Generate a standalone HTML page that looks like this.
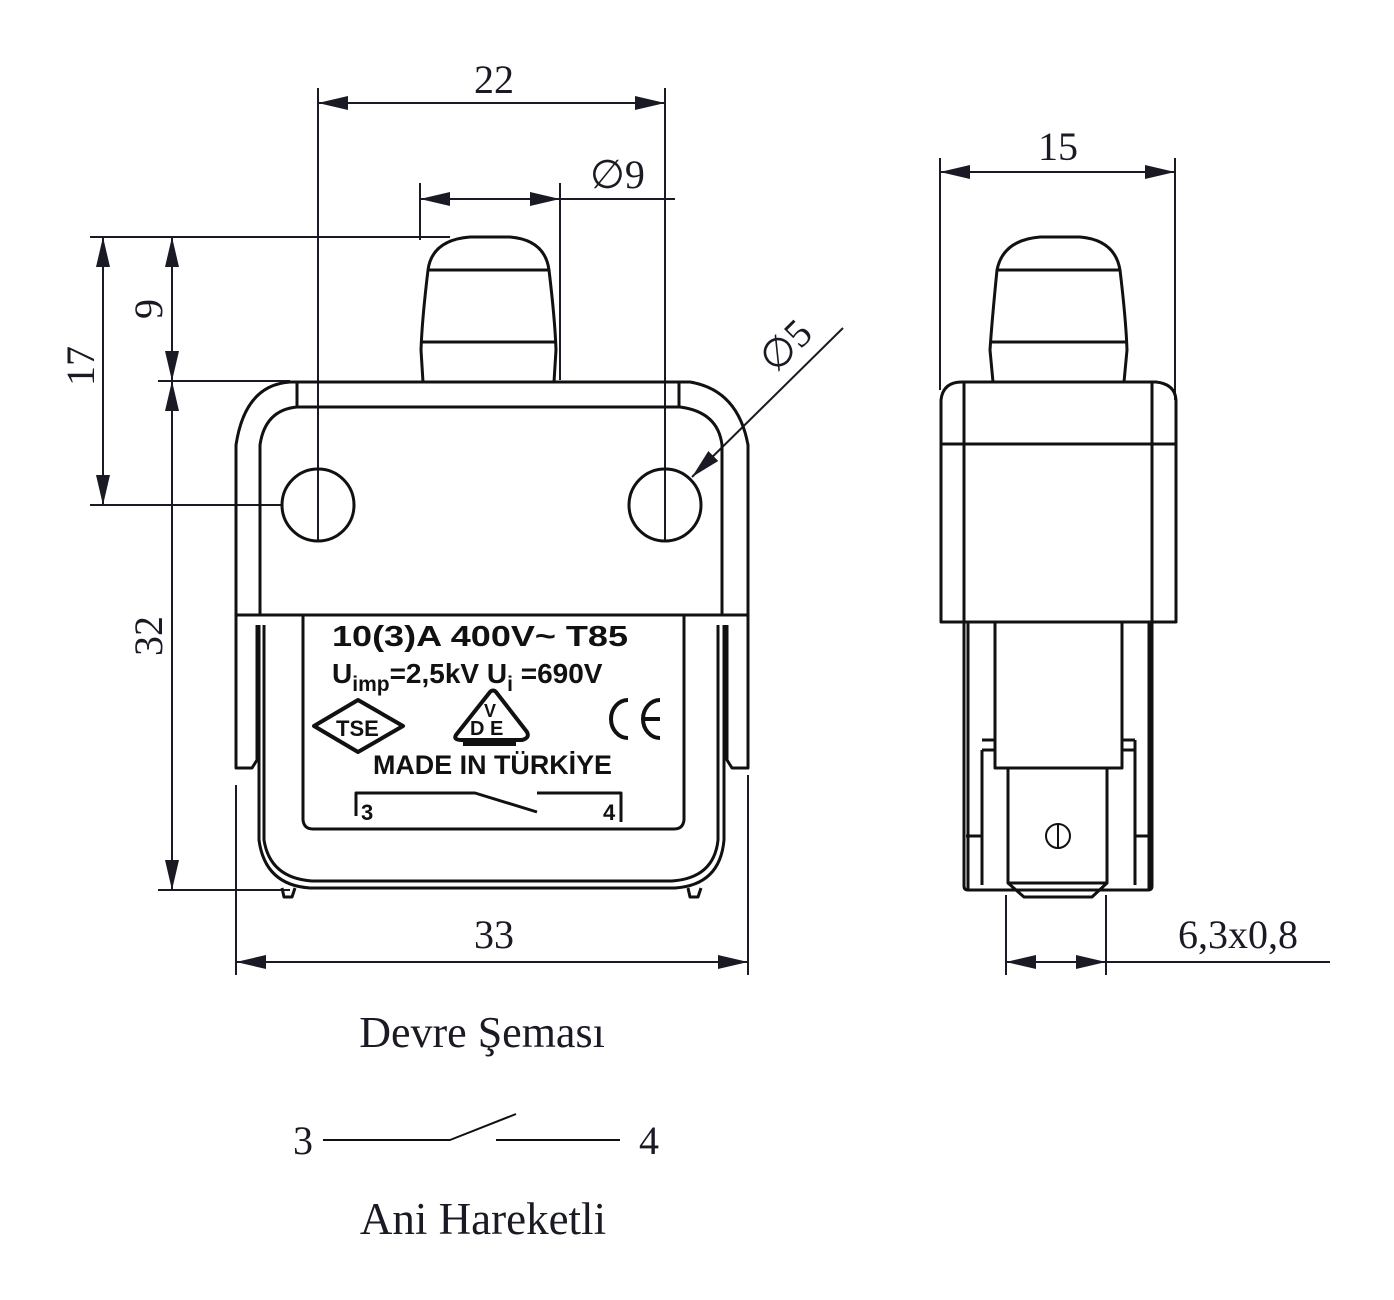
<!DOCTYPE html>
<html><head><meta charset="utf-8"><style>
html,body{margin:0;padding:0;background:#fff}
svg{display:block}
.t{font-family:"Liberation Serif",serif;font-size:40px;fill:#1a1a24}
.b{font-family:"Liberation Sans",sans-serif;font-weight:bold;font-size:26px;fill:#111}
</style></head><body>
<svg width="1394" height="1300" viewBox="0 0 1394 1300" xmlns="http://www.w3.org/2000/svg">
<defs>
<marker id="a" viewBox="0 0 30 14" refX="30" refY="7" markerWidth="30" markerHeight="14" markerUnits="userSpaceOnUse" orient="auto-start-reverse"><path d="M0,0L30,7L0,14z" fill="#1a1a24"/></marker>
</defs>
<g stroke="#1a1a24" stroke-width="2" fill="none">
<line x1="318" y1="88" x2="318" y2="540"/>
<line x1="665" y1="88" x2="665" y2="540"/>
<line x1="318" y1="103" x2="665" y2="103" marker-start="url(#a)" marker-end="url(#a)"/>
<line x1="420" y1="183" x2="420" y2="240"/>
<line x1="560" y1="183" x2="560" y2="380"/>
<line x1="420" y1="199" x2="560" y2="199" marker-start="url(#a)" marker-end="url(#a)"/>
<line x1="560" y1="199" x2="675" y2="199"/>
<line x1="90" y1="237" x2="450" y2="237"/>
<line x1="158" y1="381" x2="290" y2="381"/>
<line x1="90" y1="505" x2="282" y2="505"/>
<line x1="158" y1="890" x2="290" y2="890"/>
<line x1="103" y1="237" x2="103" y2="505" marker-start="url(#a)" marker-end="url(#a)"/>
<line x1="172" y1="237" x2="172" y2="381" marker-start="url(#a)" marker-end="url(#a)"/>
<line x1="172" y1="381" x2="172" y2="890" marker-start="url(#a)" marker-end="url(#a)"/>
<line x1="236" y1="785" x2="236" y2="975"/>
<line x1="748" y1="775" x2="748" y2="975"/>
<line x1="236" y1="962" x2="748" y2="962" marker-start="url(#a)" marker-end="url(#a)"/>
<line x1="843" y1="328" x2="692" y2="477" marker-end="url(#a)"/>
<line x1="940" y1="158" x2="940" y2="390"/>
<line x1="1175" y1="158" x2="1175" y2="400"/>
<line x1="940" y1="172" x2="1175" y2="172" marker-start="url(#a)" marker-end="url(#a)"/>
<line x1="1006" y1="895" x2="1006" y2="975"/>
<line x1="1106" y1="895" x2="1106" y2="975"/>
<line x1="1006" y1="962" x2="1106" y2="962" marker-start="url(#a)" marker-end="url(#a)"/>
<line x1="1106" y1="962" x2="1330" y2="962"/>
</g>
<g stroke="#111" stroke-width="3" fill="none" stroke-linejoin="round">
<path d="M423,382 L421,350 Q422,320 428,270 Q432,240 470,237 L510,237 Q545,240 549,270 Q555,320 556,350 L554,382"/>
<line x1="428" y1="270" x2="549" y2="270"/>
<line x1="421" y1="342" x2="556" y2="342"/>
<path d="M236,615 L236,445 Q245,385 290,382 L690,382 Q738,390 748,445 L748,615"/>
<path d="M260,615 L260,445 Q265,410 297,407 L680,407 Q718,412 722,445 L722,615"/>
<line x1="297" y1="382" x2="297" y2="407"/>
<line x1="679" y1="382" x2="679" y2="407"/>
<line x1="236" y1="615" x2="748" y2="615"/>
<circle cx="318" cy="505" r="36"/>
<circle cx="665" cy="505" r="36"/>
<path d="M236,615 L236,768 L252,768 L257,760 L257,625"/>
<path d="M748,615 L748,768 L732,768 L727,760 L727,625"/>
<path d="M259,625 L259,840 Q265,885 310,888 L675,888 Q720,885 724,840 L724,625"/>
<path d="M264,625 L264,840 Q270,878 312,881 L672,881 Q714,878 718,840 L718,625"/>
<path d="M303,615 L303,820 Q304,829 313,829 L674,829 Q683,829 684,820 L684,615"/>
<path d="M282,888 L284,897 L292,897 L295,888"/>
<path d="M688,888 L690,897 L698,897 L701,888"/>
<path d="M356,816 L356,793 L475,793 L537,812"/>
<path d="M537,793 L621,793 L621,822"/>
<path d="M993,382 L990,350 Q992,320 997,270 Q1003,240 1040,237 L1080,237 Q1115,240 1120,270 Q1126,320 1127,350 L1124,382"/>
<line x1="997" y1="270" x2="1120" y2="270"/>
<line x1="990" y1="342" x2="1127" y2="342"/>
<path d="M941,622 L941,400 Q943,382 962,382 L1156,382 Q1175,384 1176,400 L1176,622 Z"/>
<line x1="964" y1="382" x2="964" y2="622"/>
<line x1="1152" y1="382" x2="1152" y2="622"/>
<line x1="941" y1="444" x2="1176" y2="444"/>
<path d="M964,622 L964,886 Q964,890 968,890 L1148,890 Q1152,890 1152,886 L1152,622"/>
<line x1="968" y1="622" x2="968" y2="890"/>
<line x1="1149" y1="622" x2="1149" y2="890"/>
<path d="M995,622 L995,768 L1122,768 L1122,622"/>
<path d="M982,750 L982,885 M982,740 L995,740 M982,750 L995,750 M1122,740 L1135,740 M1122,750 L1135,750 M1135,740 L1135,885"/>
<path d="M1008,768 L1008,883 L1107,883 L1107,768"/>
<path d="M1008,883 L1024,897 L1092,897 L1107,883"/>
<path d="M966,836 L982,836 M1135,836 L1151,836"/>
<circle cx="1058" cy="836" r="12" stroke-width="2"/>
<line x1="1058" y1="823" x2="1058" y2="849" stroke-width="2"/>
<path d="M323,1140 L450,1140 L516,1114" stroke-width="2"/>
<line x1="496" y1="1140" x2="620" y2="1140" stroke-width="2"/>
</g>
<g stroke="#111" stroke-width="4" fill="none" stroke-linejoin="round">
<path d="M314,726 L358,700 L403,726 L358,752 Z"/>
<path d="M456,735 L490,692 Q493,689 496,692 L527,732 Q530,738 522,740 L462,740 Q453,740 456,735 Z"/>
<line x1="463" y1="744" x2="516" y2="744"/>
<path d="M628,700 A17,19 0 1 0 628,738"/>
<path d="M660,700 A17,19 0 1 0 660,738 M643,719 L660,719"/>
</g>
<text class="b" x="332" y="646" style="font-size:29px" textLength="296" lengthAdjust="spacingAndGlyphs">10(3)A 400V~  T85</text>
<text class="b" x="332" y="683" style="font-size:28px">U<tspan style="font-size:21px" dy="8">imp</tspan><tspan dy="-8">=2,5kV  U</tspan><tspan style="font-size:21px" dy="8">i</tspan><tspan dy="-8"> =690V</tspan></text>
<text class="b" x="336" y="736" style="font-size:22px">TSE</text>
<text class="b" x="484" y="717" style="font-size:18px">V</text>
<text class="b" x="470" y="735" style="font-size:20px">D E</text>
<text class="b" x="373" y="774" style="font-size:27px" textLength="239" lengthAdjust="spacingAndGlyphs">MADE IN TÜRKİYE</text>
<text class="b" x="361" y="820" style="font-size:22px">3</text>
<text class="b" x="603" y="820" style="font-size:22px">4</text>
<text class="t" x="494" y="93" text-anchor="middle">22</text>
<text class="t" x="590" y="188">∅9</text>
<text class="t" x="1058" y="160" text-anchor="middle">15</text>
<text class="t" x="494" y="948" text-anchor="middle">33</text>
<text class="t" x="1238" y="948" text-anchor="middle">6,3x0,8</text>
<text class="t" transform="translate(94,366) rotate(-90)" text-anchor="middle">17</text>
<text class="t" transform="translate(162,309) rotate(-90)" text-anchor="middle">9</text>
<text class="t" transform="translate(162,636) rotate(-90)" text-anchor="middle">32</text>
<text class="t" transform="translate(795,355) rotate(-45)" text-anchor="middle">∅5</text>
<text class="t" x="482" y="1047" text-anchor="middle" style="font-size:44px">Devre Şeması</text>
<text class="t" x="303" y="1154" text-anchor="middle">3</text>
<text class="t" x="649" y="1154" text-anchor="middle">4</text>
<text class="t" x="483" y="1234" text-anchor="middle" style="font-size:45px">Ani Hareketli</text>
</svg>
</body></html>
